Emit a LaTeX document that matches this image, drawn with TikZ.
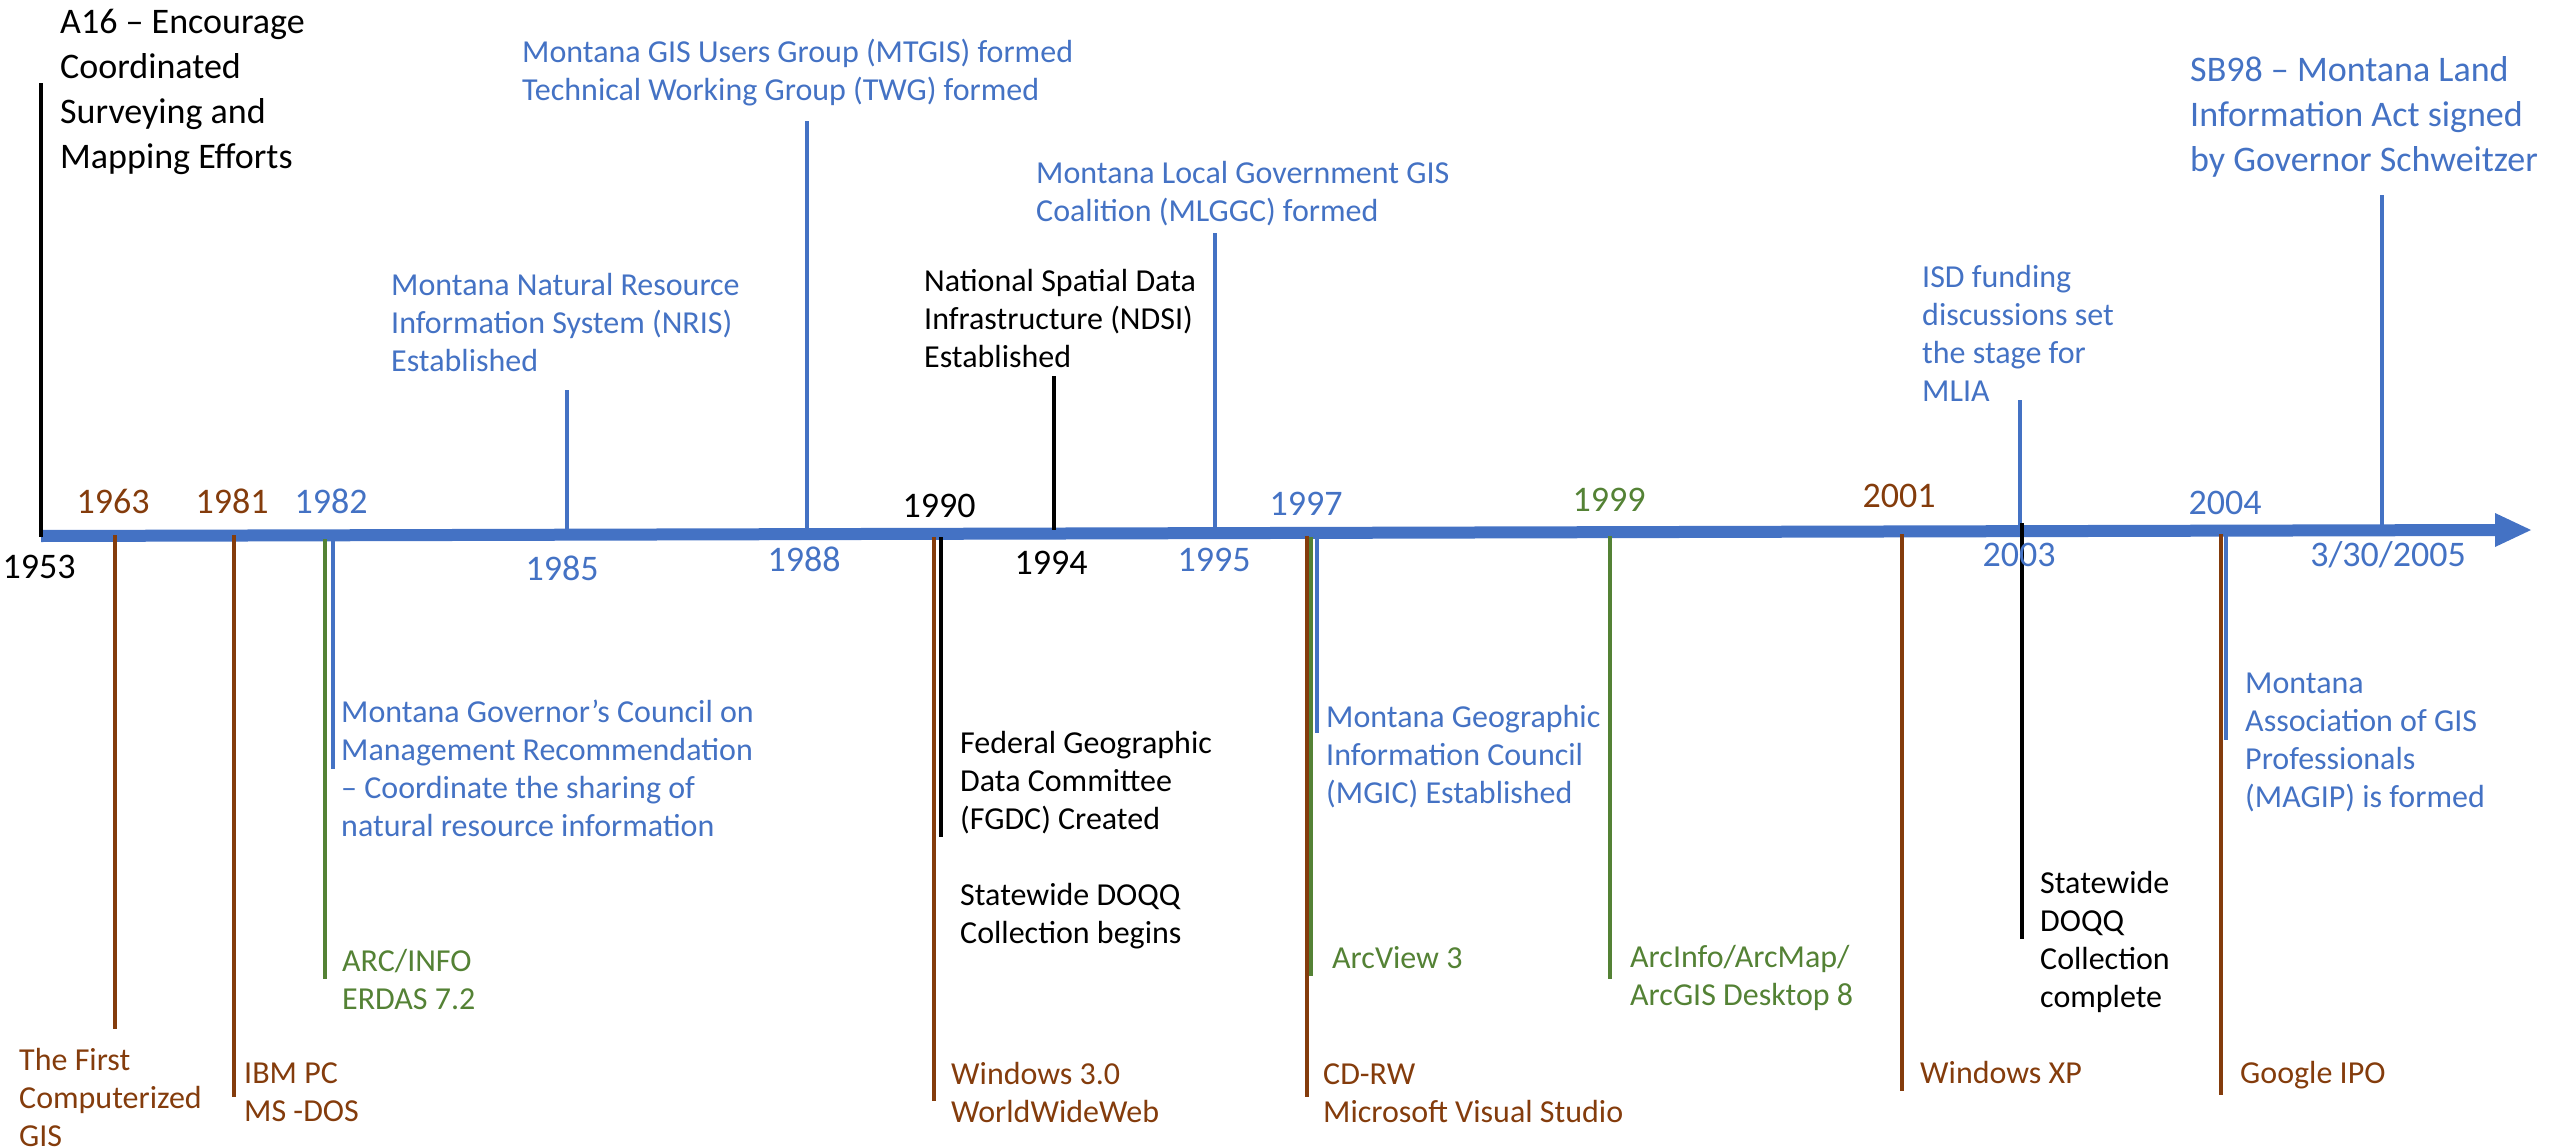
\documentclass[tikz,border=0pt]{standalone}
\usepackage{fontspec}
\setmainfont{Carlito}
\definecolor{tlblue}{HTML}{4472C4}
\definecolor{tlbrown}{HTML}{843C0C}
\definecolor{tlgreen}{HTML}{548235}
\begin{document}
\begin{tikzpicture}[x=1pt,y=-1pt,
  yr/.style={anchor=base,inner sep=0pt,font=\fontsize{36}{45}\selectfont},
  txt/.style={anchor=north west,inner sep=0pt,align=left,font=\fontsize{32}{38}\selectfont},
  txtL/.style={anchor=north west,inner sep=0pt,align=left,font=\fontsize{36}{45}\selectfont},
  vl/.style={line width=3.5pt},
  axisline/.style={line width=12pt,tlblue}]
\useasboundingbox (0,0) rectangle (2554,1148);
% axis
\coordinate (ax0) at (41,536);
\coordinate (ax1) at (2495,530);
\coordinate (axtip) at (2531,530);
\draw[axisline] (ax0) -- (ax1);
\fill[tlblue] (2495,513) -- (axtip) -- (2495,547) -- cycle;

% ---------- coordinates of vertical lines ----------
\coordinate (t1953) at (41,83);    \coordinate (b1953) at (41,537);
\coordinate (t1963) at (115,535);  \coordinate (b1963) at (115,1029);
\coordinate (t1981) at (234,535);  \coordinate (b1981) at (234,1097);
\coordinate (t1982g) at (325,539); \coordinate (b1982g) at (325,979);
\coordinate (t1982b) at (333,539); \coordinate (b1982b) at (333,769);
\coordinate (t1985) at (567,390);  \coordinate (b1985) at (567,531);
\coordinate (t1988) at (807,121);  \coordinate (b1988) at (807,530);
\coordinate (t1990r) at (934,537); \coordinate (b1990r) at (934,1101);
\coordinate (t1990k) at (941,537); \coordinate (b1990k) at (941,837);
\coordinate (t1994) at (1054,376); \coordinate (b1994) at (1054,530);
\coordinate (t1995) at (1215,233); \coordinate (b1995) at (1215,529);
\coordinate (t1997r) at (1307,536);\coordinate (b1997r) at (1307,1097);
\coordinate (t1997g) at (1311,537);\coordinate (b1997g) at (1311,976);
\coordinate (t1997b) at (1317,537);\coordinate (b1997b) at (1317,733);
\coordinate (t1999) at (1610,536); \coordinate (b1999) at (1610,979);
\coordinate (t2001) at (1902,534); \coordinate (b2001) at (1902,1091);
\coordinate (t2003u) at (2020,400);\coordinate (b2003u) at (2020,526);
\coordinate (t2003d) at (2022,523);\coordinate (b2003d) at (2022,939);
\coordinate (t2004r) at (2221,534);\coordinate (b2004r) at (2221,1095);
\coordinate (t2004b) at (2226,535);\coordinate (b2004b) at (2226,740);
\coordinate (t2005) at (2382,195); \coordinate (b2005) at (2382,526);

\draw[vl,black]    (t1953) -- (b1953);
\draw[vl,tlbrown]  (t1963) -- (b1963);
\draw[vl,tlbrown]  (t1981) -- (b1981);
\draw[vl,tlgreen]  (t1982g) -- (b1982g);
\draw[vl,tlblue]   (t1982b) -- (b1982b);
\draw[vl,tlblue]   (t1985) -- (b1985);
\draw[vl,tlblue]   (t1988) -- (b1988);
\draw[vl,tlbrown]  (t1990r) -- (b1990r);
\draw[vl,black]    (t1990k) -- (b1990k);
\draw[vl,black]    (t1994) -- (b1994);
\draw[vl,tlblue]   (t1995) -- (b1995);
\draw[vl,tlbrown]  (t1997r) -- (b1997r);
\draw[vl,tlgreen]  (t1997g) -- (b1997g);
\draw[vl,tlblue]   (t1997b) -- (b1997b);
\draw[vl,tlgreen]  (t1999) -- (b1999);
\draw[vl,tlbrown]  (t2001) -- (b2001);
\draw[vl,tlblue]   (t2003u) -- (b2003u);
\draw[vl,black]    (t2003d) -- (b2003d);
\draw[vl,tlbrown]  (t2004r) -- (b2004r);
\draw[vl,tlblue]   (t2004b) -- (b2004b);
\draw[vl,tlblue]   (t2005) -- (b2005);

% ---------- year labels ----------
\node[yr,black]   (y1953) at (39,578)  {1953};
\node[yr,tlbrown] (y1963) at (113,513) {1963};
\node[yr,tlbrown] (y1981) at (232,513) {1981};
\node[yr,tlblue]  (y1982) at (331,513) {1982};
\node[yr,tlblue]  (y1985) at (562,580) {1985};
\node[yr,tlblue]  (y1988) at (804,571) {1988};
\node[yr,black]   (y1990) at (939,517) {1990};
\node[yr,black]   (y1994) at (1051,574) {1994};
\node[yr,tlblue]  (y1995) at (1214,571) {1995};
\node[yr,tlblue]  (y1997) at (1306,515) {1997};
\node[yr,tlgreen] (y1999) at (1609,511) {1999};
\node[yr,tlbrown] (y2001) at (1899,507) {2001};
\node[yr,tlblue]  (y2003) at (2019,566) {2003};
\node[yr,tlblue]  (y2004) at (2225,514) {2004};
\node[yr,tlblue]  (y2005) at (2388,566) {3/30/2005};

% ---------- event texts ----------
\node[txtL,black] (eA16) at (60,1.5) {\strut A16 -- Encourage\\Coordinated\\Surveying and\\Mapping Efforts};
\node[txt,tlblue] (eNRIS) at (391,268.4) {\strut Montana Natural Resource\\Information System (NRIS)\\Established};
\node[txt,tlblue] (eMTGIS) at (522,35.4) {\strut Montana GIS Users Group (MTGIS) formed\\Technical Working Group (TWG) formed};
\node[txt,tlblue] (eGov) at (341,695.4) {\strut Montana Governor’s Council on\\Management Recommendation\\-- Coordinate the sharing of\\natural resource information};
\node[txt,tlgreen] (eArc) at (342,944.4) {\strut ARC/INFO\\ERDAS 7.2};
\node[txt,tlbrown] (eFirst) at (19,1043.4) {\strut The First\\Computerized\\GIS};
\node[txt,tlbrown] (eIBM) at (244,1056.4) {\strut IBM PC\\MS -DOS};
\node[txt,black] (eNDSI) at (924,264.4) {\strut National Spatial Data\\Infrastructure (NDSI)\\Established};
\node[txt,tlblue] (eMLGGC) at (1036,156.4) {\strut Montana Local Government GIS\\Coalition (MLGGC) formed};
\node[txt,black] (eFGDC) at (960,726.4) {\strut Federal Geographic\\Data Committee\\(FGDC) Created};
\node[txt,black] (eDOQQa) at (960,878.4) {\strut Statewide DOQQ\\Collection begins};
\node[txt,tlbrown] (eWin3) at (951,1057.4) {\strut Windows 3.0\\WorldWideWeb};
\node[txt,tlblue] (eMGIC) at (1326,700.4) {\strut Montana Geographic\\Information Council\\(MGIC) Established};
\node[txt,tlgreen] (eAV) at (1332,941.4) {\strut ArcView 3};
\node[txt,tlbrown] (eCD) at (1323,1057.4) {\strut CD-RW\\Microsoft Visual Studio};
\node[txt,tlgreen] (eAI) at (1630,940.4) {\strut ArcInfo/ArcMap/\\ArcGIS Desktop 8};
\node[txt,tlbrown] (eXP) at (1920,1056.4) {\strut Windows XP};
\node[txt,tlblue] (eISD) at (1922,260.4) {\strut ISD funding\\discussions set\\the stage for\\MLIA};
\node[txt,black] (eDOQQb) at (2040,866.4) {\strut Statewide\\DOQQ\\Collection\\complete};
\node[txt,tlblue] (eMAGIP) at (2245,666.4) {\strut Montana\\Association of GIS\\Professionals\\(MAGIP) is formed};
\node[txt,tlbrown] (eGoog) at (2240,1056.4) {\strut Google IPO};
\node[txtL,tlblue] (eSB98) at (2190,49.5) {\strut SB98 -- Montana Land\\Information Act signed\\by Governor Schweitzer};
\end{tikzpicture}
\end{document}
